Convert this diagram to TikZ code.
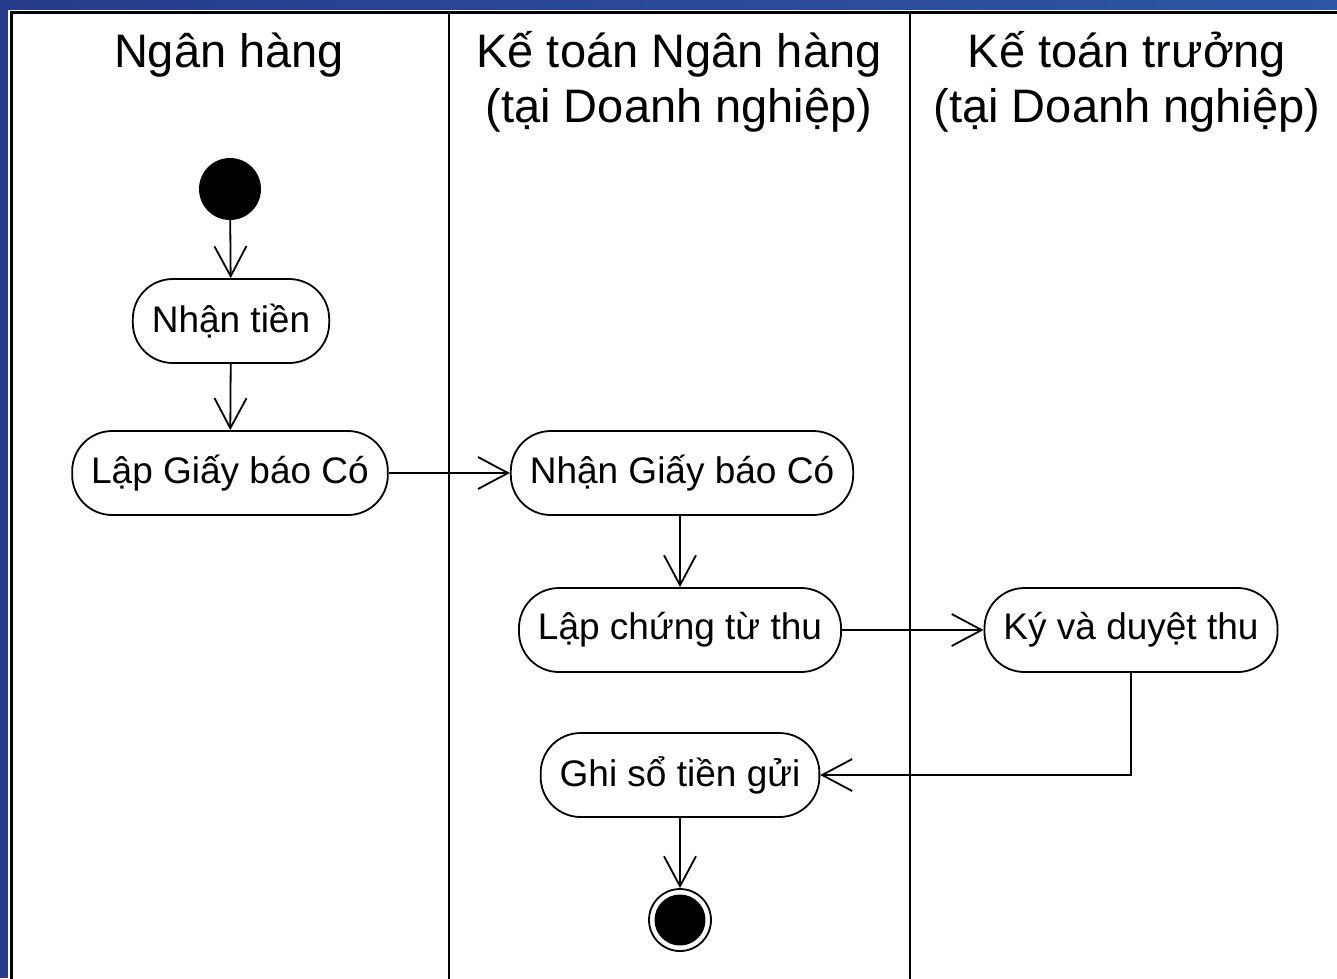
\documentclass[tikz,border=0pt]{standalone}
\usepackage{fontspec}
\setmainfont{Liberation Sans}
\usetikzlibrary{arrows.meta,positioning}
\definecolor{bgblue}{RGB}{38,60,138}
\definecolor{bgblue2}{RGB}{46,86,166}
\tikzset{
  act/.style={draw, line width=1.8pt, rounded corners=40pt, minimum height=84pt,
    inner xsep=19pt, font=\fontsize{37}{41}\selectfont},
  hdr/.style={font=\fontsize{47}{55}\selectfont, align=center, inner sep=0pt},
  flow/.style={line width=1.8pt, -{Straight Barb[length=30pt,width=32pt,line width=1.8pt]}},
  lane/.style={line width=2pt},
}
\begin{document}
\begin{tikzpicture}[x=1pt,y=-1pt]
\useasboundingbox (0,0) rectangle (1337,978);
% background
\fill[bgblue] (0,0) rectangle (1337,978);
\shade[left color=bgblue, right color=bgblue2] (0,0) rectangle (1337,10);
\fill[white] (8,10) rectangle (1337,978);
\draw[line width=2.4pt] (11.5,990) -- (11.5,12.5) -- (1350,12.5);
% lanes
\draw[lane] (449,12) -- (449,990);
\draw[lane] (910,12) -- (910,990);
% headers
\node[hdr] (h1) at (229,55) {Ngân hàng};
\node[hdr] (h2) at (679,82) {Kế toán Ngân hàng\\(tại Doanh nghiệp)};
\node[hdr] (h3) at (1127,82) {Kế toán trưởng\\(tại Doanh nghiệp)};
% nodes
\node[circle, fill=black, minimum size=62pt, inner sep=0pt] (start) at (230,189) {};
\node[act] (n1) at (231,321) {Nhận tiền};
\node[act] (n2) at (230,473) {Lập Giấy báo Có};
\node[act] (n3) at (682,473) {Nhận Giấy báo Có};
\node[act] (n4) at (680,630) {Lập chứng từ thu};
\node[act] (n5) at (1131,630) {Ký và duyệt thu};
\node[act] (n6) at (680,775) {Ghi sổ tiền gửi};
\node[circle, draw, line width=1.8pt, minimum size=62pt, inner sep=0pt] (end) at (680,920) {};
\fill (end.center) circle (25.5);
% flows
\draw[flow] (start) -- (n1);
\draw[flow] (n1) -- (n2);
\draw[flow] (n2) -- (n3);
\draw[flow] (n3.south -| n4) -- (n4);
\draw[flow] (n4) -- (n5);
\draw[flow] (n5.south) |- (n6.east);
\draw[flow] (n6) -- (end);
\end{tikzpicture}
\end{document}
